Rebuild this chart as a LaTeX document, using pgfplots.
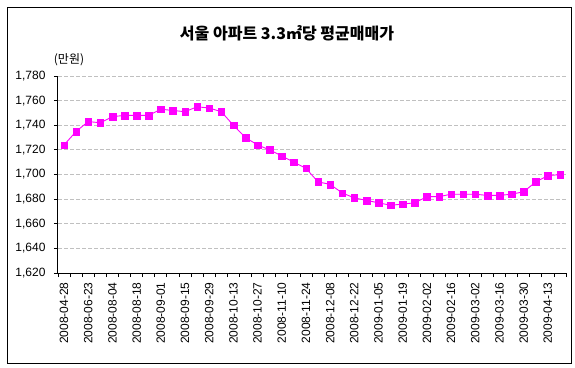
\documentclass[border=0pt]{standalone}
\usepackage{pgfplots}
\pgfplotsset{compat=1.18}
\usepackage{fontspec}
\setmainfont{Liberation Sans}
\newfontfamily\kr{Noto Sans CJK KR}
\definecolor{mag}{HTML}{FF00FF}
\definecolor{gridc}{HTML}{C0C0C0}
\begin{document}
\begin{tikzpicture}[x=1pt,y=1pt]
\begin{axis}[
  at={(58pt,94pt)}, anchor=south west,
  scale only axis, width=508pt, height=197pt,
  xmin=-0.5, xmax=41.5, ymin=1620, ymax=1780,
  axis x line*=bottom, axis y line*=left,
  axis line style={black, line width=1pt, -},
  ytick={1620,1640,...,1780},
  xtick={-0.5,0.5,...,41.5}, xticklabels={},
  extra x ticks={0,2,...,40},
  extra x tick labels={2008-04-28,2008-06-23,2008-08-04,2008-08-18,2008-09-01,2008-09-15,2008-09-29,2008-10-13,2008-10-27,2008-11-10,2008-11-24,2008-12-08,2008-12-22,2009-01-05,2009-01-19,2009-02-02,2009-02-16,2009-03-02,2009-03-16,2009-03-30,2009-04-13},
  extra x tick style={major tick length=0pt},
  tick align=outside, major tick length=4pt,
  tick style={black, line width=0.8pt},
  xticklabel style={rotate=90, anchor=east},
  xticklabel shift={6pt},
  yticklabel shift={5pt},
  tick label style={font=\fontsize{12}{14}\selectfont},
  /pgf/number format/1000 sep={,},
  /pgf/number format/assume math mode=true,
  ymajorgrids,
  grid style={gridc, line width=0.8pt, dash pattern=on 4pt off 2pt},
]
\addplot[mag, line width=0.9pt, mark=square*, mark size=3.3pt, mark options={fill=mag, draw=mag, line width=0.3pt}] coordinates {
(0,1724) (1,1735) (2,1743) (3,1742) (4,1747) (5,1748) (6,1748) (7,1748)
(8,1753) (9,1752) (10,1751) (11,1755) (12,1754) (13,1751) (14,1740) (15,1730)
(16,1724) (17,1720) (18,1715) (19,1710) (20,1705) (21,1694) (22,1692) (23,1685)
(24,1681) (25,1679) (26,1677) (27,1675) (28,1676) (29,1677) (30,1682) (31,1682)
(32,1684) (33,1684) (34,1684) (35,1683) (36,1683) (37,1684) (38,1686) (39,1694)
(40,1699) (41,1700)
};
\end{axis}
\node[font=\kr\bfseries\fontsize{16}{18}\selectfont] at (287,334) {서울 아파트 3.3㎡당 평균매매가};
\node[font=\kr\fontsize{12}{14}\selectfont] at (69,307) {(만원)};
\draw[line width=1pt] (7.5,3.5) rectangle (571,359.5);
\pgfresetboundingbox
\path (0,0) rectangle (575,367);
\end{tikzpicture}
\end{document}
